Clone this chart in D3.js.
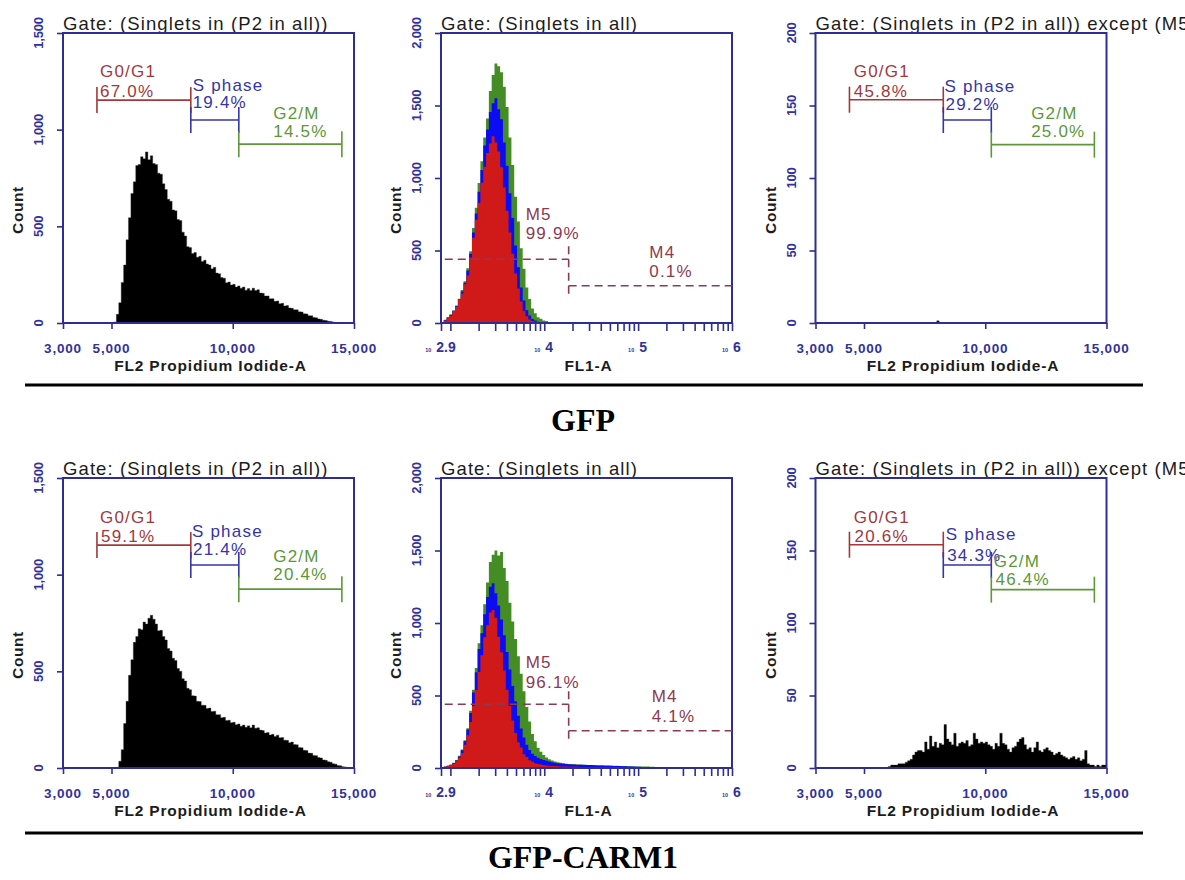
<!DOCTYPE html>
<html><head><meta charset="utf-8">
<script src="https://cdn.jsdelivr.net/npm/d3@7"></script>
<style>body{margin:0;background:#fff} svg{display:block}</style>
</head><body><svg id="c" width="1185" height="880"></svg>
<script>
// ================= DATA =================
// FL2 (Propidium Iodide) axis
const fl2Domain = [3000, 15000];
const fl2TickValues = [3000, 5000, 10000, 15000];
const fl2TickLabels = ["3,000", "5,000", "10,000", "15,000"];
const fl2BinWidth = 100;
// FL1 (log) axis, in log10 units
const fl1LogDomain = [2.9, 6];
const fl1LabelExps = [2.9, 4, 5, 6];
const fl1LabelTexts = ["2.9", "4", "5", "6"];
const fl1BinStart = 2.9;
const fl1BinWidth = 0.03;
// count axes
const countTicksCycle = [0, 500, 1000, 1500];
const countLabelsCycle = ["0", "500", "1,000", "1,500"];
const countTicksFl1 = [0, 500, 1000, 1500, 2000];
const countLabelsFl1 = ["0", "500", "1,000", "1,500", "2,000"];
const countTicksExcept = [0, 50, 100, 150, 200];
const countLabelsExcept = ["0", "50", "100", "150", "200"];

// cell-cycle gates
const cycleGateNames = ["G0/G1", "S phase", "G2/M"];
const cycleGateBounds = [4400, 8270, 10250, 14500];
const cycleGateLevelsAll = [1153, 1050, 925];     // on 0-1500 count axis
const cycleGateLevelsExcept = [154, 140, 123];    // on 0-200 count axis
const gfpCyclePct = ["67.0%", "19.4%", "14.5%"];
const gfpExceptPct = ["45.8%", "29.2%", "25.0%"];
const carmCyclePct = ["59.1%", "21.4%", "20.4%"];
const carmExceptPct = ["20.6%", "34.3%", "46.4%"];

// FL1 markers
const fl1MarkerNames = ["M5", "M4"];
const fl1MarkerBounds = [2.94, 4.26, 6.0];
const fl1MarkerLevels = [440, 257];
const gfpFl1Pct = ["99.9%", "0.1%"];
const carmFl1Pct = ["96.1%", "4.1%"];

// histograms: FL2 bins of 100 starting at given value
const gfpCycleStart = 5100;
const gfpCycleCounts = [5,45,105,210,300,430,545,670,730,815,820,860,850,885,845,865,825,820,775,770,
  720,690,640,630,585,580,535,530,470,450,395,390,360,365,340,345,318,325,305,300,
  280,288,258,255,235,232,208,212,196,200,186,192,180,186,170,178,168,180,168,172,
  155,154,140,140,126,126,112,114,100,102,88,90,78,76,68,68,58,57,48,47,
  38,37,29,27,21,19,14,13,9,8,5,3,0];
const carmCycleStart = 5200;
const carmCycleCounts = [3,35,95,230,345,480,560,650,680,720,715,755,745,775,790,770,745,710,712,680,
  662,618,605,568,556,515,500,462,450,412,405,374,372,345,344,325,324,308,310,292,
  294,276,276,260,262,246,247,234,237,224,228,216,222,211,218,208,222,206,208,196,
  194,181,184,171,174,163,170,156,158,144,143,131,134,121,120,106,105,92,90,77,
  76,65,64,54,52,42,40,32,30,22,20,13,11,7,5,3,1];
const gfpExceptStart = 8000;
const gfpExceptCounts = [1.5];
const carmExceptStart = 6000;
const carmExceptCounts = [1,2,2,2,3,3,3,4,5,6,9,11,12,12,11,18,13,22,15,18,
  14,17,16,30,20,18,16,24,15,17,18,17,19,15,16,24,20,17,18,17,
  18,16,15,13,17,15,24,17,16,13,11,14,15,18,20,21,16,13,14,11,
  14,18,12,11,13,14,12,11,9,10,11,9,8,7,6,7,8,6,7,5,
  6,12,3,2,2,1,2,1,2,2];

// FL1 histograms: log bins of 0.03 starting at 10^2.9
const gfpFl1Green = [5,22,40,60,86,120,168,228,288,378,495,655,795,965,1115,1280,1410,1600,1710,1790,
  1770,1730,1630,1490,1280,1090,870,700,515,375,245,165,100,68,40,30,17,13,7,6,3,2,1];
const gfpFl1Blue = [5,20,38,56,84,116,163,218,278,362,478,625,755,905,1055,1225,1335,1455,1515,1550,
  1475,1405,1245,1085,895,725,535,385,245,155,88,52,27,17,9,6,3,2];
const gfpFl1Red = [5,18,36,50,82,110,162,203,268,328,452,588,712,828,968,1078,1172,1238,1288,1245,
  1182,1075,935,775,625,478,342,238,148,84,46,24,14,8,4,2];
const carmFl1Green = [4,10,16,23,36,55,84,128,192,275,395,540,690,860,985,1130,1280,1420,1470,1500,
  1465,1490,1380,1290,1140,1010,890,770,650,530,420,320,235,185,140,112,90,72,60,52,
  45,40,36,32,30,28,27,26,25,24,23,22,21,20,19,19,18,18,17,17,
  16,16,15,14,13,13,12,12,11,11,11,11,10,10,9,8,7,5,3];
const carmFl1Blue = [4,9,15,22,34,52,80,122,185,265,380,520,660,820,930,1060,1180,1250,1275,1205,
  1120,1025,915,800,680,565,460,360,272,210,160,125,98,82,70,62,56,50,45,40,
  36,33,31,29,27,26,25,24,23,23,22,21,20,20,19,18,18,17,16,15,
  15,14,13,13,12,12,11,11,10,9,8,7,6,4,3,2,1];
const carmFl1Red = [4,8,14,19,30,46,70,104,160,226,318,428,538,662,778,902,985,1072,1090,1035,
  905,798,672,538,428,328,242,178,142,94,76,54,43,33,28,24,20,18,16,14,
  13,12,11,11,10,9,9,8,8,7,7,6,6,5,5,5,4,4,3,3,3,2,2,1];

// ================= LAYOUT / STYLE =================
const PW = 291, PH = 290;
const NAVY = "#2e2e92";
const TBLUE = "#32329c";
const SANS = "'Liberation Sans', Arial, sans-serif";
const gateColors = ["#a2383c", "#3535a8", "#5c9838"];
const markerColor = "#8c3a52";
const histColors = {green: "#448c24", blue: "#0c0cf2", red: "#d01a1a"};

const svg = d3.select("#c");

const cyclePanels = [
  {left: 63, top: 33, title: "Gate: (Singlets in (P2 in all))", start: gfpCycleStart, counts: gfpCycleCounts,
   ymax: 1500, ticks: countTicksCycle, tickLabels: countLabelsCycle, pct: gfpCyclePct, levels: cycleGateLevelsAll,
   lab: [[37,44.3,37,63.7],[129.7,57.7,129.7,75.3],[210.3,86,210.3,104.3]]},
  {left: 815.5, top: 33, title: "Gate: (Singlets in (P2 in all)) except (M5 in all)", start: gfpExceptStart, counts: gfpExceptCounts,
   ymax: 200, ticks: countTicksExcept, tickLabels: countLabelsExcept, pct: gfpExceptPct, levels: cycleGateLevelsExcept,
   lab: [[38.3,44.3,38.3,63.7],[129,58.7,130,77],[215.7,86,215.7,104.3]]},
  {left: 63, top: 478, title: "Gate: (Singlets in (P2 in all))", start: carmCycleStart, counts: carmCycleCounts,
   ymax: 1500, ticks: countTicksCycle, tickLabels: countLabelsCycle, pct: carmCyclePct, levels: cycleGateLevelsAll,
   lab: [[37,45.3,38,63.7],[129,58.7,130,77],[210.3,83.7,210.3,102]]},
  {left: 815.5, top: 478, title: "Gate: (Singlets in (P2 in all)) except (M5 in all)", start: carmExceptStart, counts: carmExceptCounts,
   ymax: 200, ticks: countTicksExcept, tickLabels: countLabelsExcept, pct: carmExceptPct, levels: cycleGateLevelsExcept,
   lab: [[38.3,45.3,39,63.7],[130.3,62,131.7,83],[178.3,88.7,180,107]]}
];
const fl1Panels = [
  {left: 441, top: 33, title: "Gate: (Singlets in all)", series: [["green", gfpFl1Green], ["blue", gfpFl1Blue], ["red", gfpFl1Red]],
   pct: gfpFl1Pct, lab: [[84.7,187,84.7,206.3],[208.3,225.3,208.3,244.3]]},
  {left: 441, top: 478, title: "Gate: (Singlets in all)", series: [["green", carmFl1Green], ["blue", carmFl1Blue], ["red", carmFl1Red]],
   pct: carmFl1Pct, lab: [[84.7,190.3,84.7,210.3],[210.7,223.7,210.7,243.7]]}
];

function commonFrame(g, y, p, ticks, tickLabels, xTitle) {
  // title
  g.append("text").attr("x", 0).attr("y", -3.5).text(p.title)
    .attr("font-family", SANS).attr("font-size", 18.5).attr("letter-spacing", 1.1).attr("fill", "#1c1c1c");
  // left axis ticks
  const ay = g.append("g").call(d3.axisLeft(y).tickValues(ticks).tickSize(6).tickFormat(""));
  ay.select(".domain").remove();
  ay.selectAll("line").attr("stroke", NAVY).attr("stroke-width", 1.6);
  // y tick labels (rotated)
  ticks.forEach((t, i) => {
    g.append("text").attr("transform", `translate(-20,${y(t)}) rotate(-90)`)
      .attr("text-anchor", "middle").text(tickLabels[i])
      .attr("font-family", SANS).attr("font-size", 13).attr("font-weight", "bold").attr("letter-spacing", -0.2).attr("fill", TBLUE);
  });
  // Count label
  g.append("text").attr("transform", `translate(-40,${PH / 2 + 32}) rotate(-90)`)
    .attr("text-anchor", "middle").text("Count")
    .attr("font-family", SANS).attr("font-size", 15.5).attr("font-weight", "bold").attr("letter-spacing", 0.6).attr("fill", "#1c1c1c");
  // x title
  g.append("text").attr("x", PW / 2 + 2).attr("y", PH + 48).attr("text-anchor", "middle").text(xTitle)
    .attr("font-family", SANS).attr("font-size", 15.5).attr("font-weight", "bold").attr("letter-spacing", 0.8).attr("fill", "#1c1c1c");
}

function drawFrame(g) {
  g.append("rect").attr("x", 0).attr("y", 0).attr("width", PW).attr("height", PH)
    .attr("fill", "none").attr("stroke", NAVY).attr("stroke-width", 2);
}

// ---------- cell-cycle panels ----------
cyclePanels.forEach(p => {
  const g = svg.append("g").attr("transform", `translate(${p.left},${p.top})`);
  const x = d3.scaleLinear().domain(fl2Domain).range([0, PW]);
  const y = d3.scaleLinear().domain([0, p.ymax]).range([PH, 0]);
  const pts = p.counts.map((c, i) => ({v: p.start + i * fl2BinWidth, c}));
  pts.push({v: p.start + p.counts.length * fl2BinWidth, c: 0});
  const area = d3.area().curve(d3.curveStepAfter).x(d => x(d.v)).y0(y(0)).y1(d => y(d.c));
  g.append("path").datum(pts).attr("d", area).attr("fill", "#000").attr("stroke", "#333").attr("stroke-width", 0.4);

  commonFrame(g, y, p, p.ticks, p.tickLabels, "FL2 Propidium Iodide-A");
  const ax = g.append("g").attr("transform", `translate(0,${PH})`)
    .call(d3.axisBottom(x).tickValues(fl2TickValues).tickSize(6).tickFormat(""));
  ax.select(".domain").remove();
  ax.selectAll("line").attr("stroke", NAVY).attr("stroke-width", 1.6);
  fl2TickValues.forEach((t, i) => {
    g.append("text").attr("x", x(t)).attr("y", PH + 30).attr("text-anchor", "middle").text(fl2TickLabels[i])
      .attr("font-family", SANS).attr("font-size", 13.5).attr("font-weight", "bold").attr("letter-spacing", 0.8).attr("fill", TBLUE);
  });
  drawFrame(g);

  // gate markers
  cycleGateNames.forEach((name, i) => {
    const x0 = x(cycleGateBounds[i]), x1 = x(cycleGateBounds[i + 1]), yy = y(p.levels[i]);
    const col = gateColors[i];
    g.append("line").attr("x1", x0).attr("x2", x1).attr("y1", yy).attr("y2", yy).attr("stroke", col).attr("stroke-width", 1.6);
    [x0, x1].forEach(xx => g.append("line").attr("x1", xx).attr("x2", xx).attr("y1", yy - 13).attr("y2", yy + 13)
      .attr("stroke", col).attr("stroke-width", 1.6));
    const L = p.lab[i];
    g.append("text").attr("x", L[0]).attr("y", L[1]).text(name)
      .attr("font-family", SANS).attr("font-size", 17).attr("letter-spacing", 1.2).attr("fill", col);
    g.append("text").attr("x", L[2]).attr("y", L[3]).text(p.pct[i])
      .attr("font-family", SANS).attr("font-size", 17).attr("letter-spacing", 1.2).attr("fill", col);
  });
});

// ---------- FL1 panels ----------
fl1Panels.forEach(p => {
  const g = svg.append("g").attr("transform", `translate(${p.left},${p.top})`);
  const x = d3.scaleLog().domain(fl1LogDomain.map(e => Math.pow(10, e))).range([0, PW]);
  const y = d3.scaleLinear().domain([0, 2000]).range([PH, 0]);
  p.series.forEach(([col, counts]) => {
    const pts = counts.map((c, i) => ({v: Math.pow(10, fl1BinStart + i * fl1BinWidth), c}));
    pts.push({v: Math.pow(10, fl1BinStart + counts.length * fl1BinWidth), c: 0});
    const area = d3.area().curve(d3.curveStepAfter).x(d => x(d.v)).y0(y(0)).y1(d => y(d.c));
    g.append("path").datum(pts).attr("d", area).attr("fill", histColors[col]);
  });

  commonFrame(g, y, p, countTicksFl1, countLabelsFl1, "FL1-A");
  // log ticks
  const tv = [];
  for (let e = 3; e <= 5; e++) for (let d = 1; d <= 9; d++) tv.push(d * Math.pow(10, e));
  tv.push(1e6);
  tv.push(Math.pow(10, 2.9));
  const ax = g.append("g").attr("transform", `translate(0,${PH})`)
    .call(d3.axisBottom(x).tickValues(tv).tickSize(8).tickFormat(""));
  ax.select(".domain").remove();
  ax.selectAll("line").attr("stroke", NAVY).attr("stroke-width", 1.6);
  fl1LabelExps.forEach((e, i) => {
    const t = g.append("text").attr("y", PH + 29).attr("font-family", SANS).attr("fill", TBLUE).attr("font-weight", "bold");
    t.append("tspan").text("10").attr("font-size", 5.5);
    const ex = t.append("tspan").attr("dx", 5).text(fl1LabelTexts[i]).attr("font-size", 14);
    const total = t.node().getComputedTextLength();
    const el = ex.node().getComputedTextLength();
    t.attr("x", x(Math.pow(10, e)) - (total - el / 2));
  });
  drawFrame(g);

  // markers (dashed)
  fl1MarkerNames.forEach((name, i) => {
    const x0 = x(Math.pow(10, fl1MarkerBounds[i])), x1 = x(Math.pow(10, fl1MarkerBounds[i + 1]));
    const yy = y(fl1MarkerLevels[i]);
    g.append("line").attr("x1", x0).attr("x2", x1).attr("y1", yy).attr("y2", yy)
      .attr("stroke", markerColor).attr("stroke-width", 1.6).attr("stroke-dasharray", "8,5");
    const inner = i === 0 ? x1 : x0;
    g.append("line").attr("x1", inner).attr("x2", inner).attr("y1", yy - 13).attr("y2", yy + 13)
      .attr("stroke", markerColor).attr("stroke-width", 1.6).attr("stroke-dasharray", "8,5");
    const L = p.lab[i];
    g.append("text").attr("x", L[0]).attr("y", L[1]).text(name)
      .attr("font-family", SANS).attr("font-size", 17).attr("letter-spacing", 1.2).attr("fill", markerColor);
    g.append("text").attr("x", L[2]).attr("y", L[3]).text(p.pct[i])
      .attr("font-family", SANS).attr("font-size", 17).attr("letter-spacing", 1.2).attr("fill", markerColor);
  });
});

// ---------- separators & group labels ----------
const groupNames = ["GFP", "GFP-CARM1"];
const sepY = [385, 833];
const nameY = [431, 868];
groupNames.forEach((n, i) => {
  svg.append("line").attr("x1", 25).attr("x2", 1143).attr("y1", sepY[i]).attr("y2", sepY[i])
    .attr("stroke", "#000").attr("stroke-width", 2.8);
  svg.append("text").attr("x", 583).attr("y", nameY[i]).attr("text-anchor", "middle").text(n)
    .attr("font-family", "'Liberation Serif', 'Times New Roman', serif").attr("font-weight", "bold")
    .attr("font-size", 32).attr("fill", "#000");
});
</script></body></html>
